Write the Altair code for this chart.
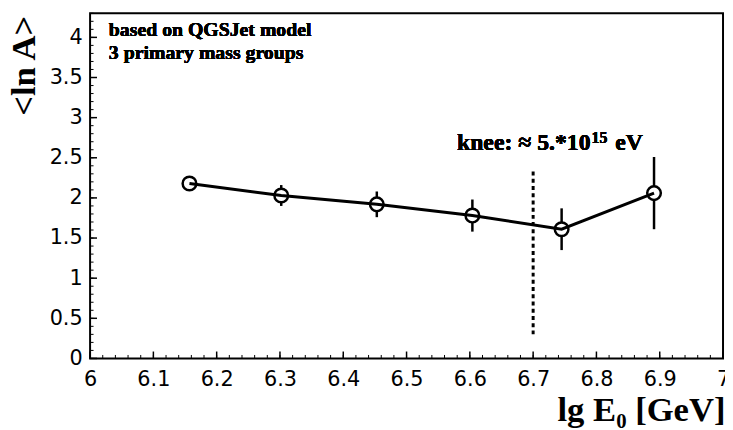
import altair as alt
import pandas as pd

# ---- data ----
lg_e = [6.157, 6.302, 6.453, 6.604, 6.745, 6.891]
ln_a = [2.18, 2.03, 1.92, 1.78, 1.61, 2.06]
ln_a_err = [0.05, 0.13, 0.16, 0.20, 0.26, 0.45]

knee_lg_e = [6.70]
knee_lo = [0.30]
knee_hi = [2.34]

x_major = [6.0, 6.1, 6.2, 6.3, 6.4, 6.5, 6.6, 6.7, 6.8, 6.9, 7.0]
y_major = [0, 0.5, 1, 1.5, 2, 2.5, 3, 3.5, 4]
x_minor = [round(6.0 + 0.02 * i, 2) for i in range(51)]
y_minor = [round(0.1 * i, 1) for i in range(44)]

notes = ["based on QGSJet model", "3 primary mass groups"]
knee_parts = ["knee: \u2248 5.*10", "15", "eV"]
x_title = "lg E\u2080 [GeV]"
y_title = "<ln A>"

df = pd.DataFrame({"lgE": lg_e, "lnA": ln_a,
                   "lo": [v - e for v, e in zip(ln_a, ln_a_err)],
                   "hi": [v + e for v, e in zip(ln_a, ln_a_err)]})
knee_df = pd.DataFrame({"x": knee_lg_e, "lo": knee_lo, "hi": knee_hi})
xmaj_df = pd.DataFrame({"x": x_major})
xmin_df = pd.DataFrame({"x": x_minor})
ymaj_df = pd.DataFrame({"y": y_major})
ymin_df = pd.DataFrame({"y": y_minor})

W, H = 640, 349
serif = "Liberation Serif"
sans = "DejaVu Sans"

xscale = alt.Scale(domain=[6, 7], nice=False, zero=False)
yscale = alt.Scale(domain=[0, 4.3], nice=False)

xaxis = alt.Axis(values=x_major, format="~g", ticks=False, domain=False, grid=False,
                 labelFont=sans, labelFontSize=21, labelColor="black", labelPadding=10,
                 labelFlush=False, labelOverlap=False,
                 title=x_title, titleFont=serif, titleFontWeight="bold", titleFontSize=35,
                 titleColor="black", titleAnchor="end", titleAlign="right",
                 titleBaseline="alphabetic", titleX=W + 2, titleY=63)
yaxis = alt.Axis(values=y_major, format="~g", ticks=False, domain=False, grid=False,
                 labelFont=sans, labelFontSize=21, labelColor="black", labelPadding=8,
                 labelFlush=False, labelOverlap=False,
                 title=y_title, titleFont=serif, titleFontWeight="bold", titleFontSize=35,
                 titleColor="black", titleAngle=270, titleAlign="right",
                 titleBaseline="alphabetic", titleX=-56, titleY=2)

base = alt.Chart(df)

err = base.mark_rule(color="black", strokeWidth=2.5).encode(
    x=alt.X("lgE:Q", scale=xscale, axis=xaxis),
    y=alt.Y("lo:Q", scale=yscale, axis=yaxis),
    y2="hi:Q")

circles = base.mark_circle(size=190, color="white", stroke="black",
                           strokeWidth=2.5, opacity=1).encode(
    x=alt.X("lgE:Q", scale=xscale), y=alt.Y("lnA:Q", scale=yscale))

line = base.mark_line(color="black", strokeWidth=3).encode(
    x=alt.X("lgE:Q", scale=xscale), y=alt.Y("lnA:Q", scale=yscale))

knee = alt.Chart(knee_df).mark_rule(color="black", strokeWidth=3,
                                    strokeDash=[4, 3.3]).encode(
    x=alt.X("x:Q", scale=xscale), y=alt.Y("lo:Q", scale=yscale), y2="hi:Q")

xmaj = alt.Chart(xmaj_df).mark_rule(color="black", strokeWidth=1.5).encode(
    x=alt.X("x:Q", scale=xscale), y=alt.value(H), y2=alt.value(H - 7))
xmin = alt.Chart(xmin_df).mark_rule(color="black", strokeWidth=1).encode(
    x=alt.X("x:Q", scale=xscale), y=alt.value(H), y2=alt.value(H - 3.5))
ymaj = alt.Chart(ymaj_df).mark_rule(color="black", strokeWidth=1.5).encode(
    y=alt.Y("y:Q", scale=yscale), x=alt.value(0), x2=alt.value(7))
ymin = alt.Chart(ymin_df).mark_rule(color="black", strokeWidth=1).encode(
    y=alt.Y("y:Q", scale=yscale), x=alt.value(0), x2=alt.value(3.5))


def label(txt, px, py, size):
    return alt.Chart(df).mark_text(text=txt, font=serif, fontWeight="bold", fontSize=size,
                                   align="left", baseline="alphabetic",
                                   color="black").encode(x=alt.value(px), y=alt.value(py))


note1 = label(notes[0], 19, 23, 20)
note2 = label(notes[1], 19, 46, 20)
knee_a = label(knee_parts[0], 371, 138, 24)
knee_b = label(knee_parts[1], 507, 131, 16)
knee_c = label(knee_parts[2], 531, 138, 24)

chart = alt.layer(err, knee, xmin, xmaj, ymin, ymaj, circles, line,
                  note1, note2, knee_a, knee_b, knee_c).properties(
    width=W, height=H,
    padding={"left": 83, "top": 3, "right": 2, "bottom": 70},
    autosize=alt.AutoSizeParams(type="none"),
    background="white",
).configure_view(stroke="black", strokeWidth=2)

chart.save("out.html", embed_options={"renderer": "svg", "actions": False})
